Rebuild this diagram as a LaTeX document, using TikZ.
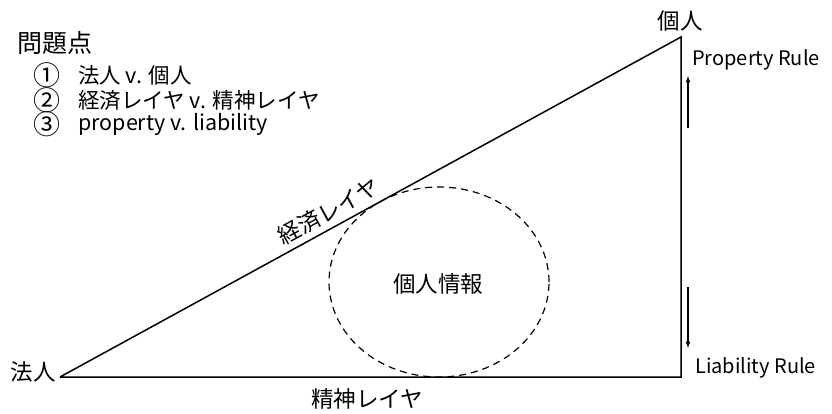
\documentclass[tikz,border=0pt]{standalone}
\usepackage{fontspec}
\setmainfont{Noto Sans CJK JP}
\usetikzlibrary{positioning, shapes.geometric}
\begin{document}
\begin{tikzpicture}[x=1pt, y=-1pt, font=\fontsize{22.5}{27}\selectfont, inner sep=0pt]
		\useasboundingbox (0,0) rectangle (832,413);

		% triangle corners
		\coordinate (left) at (60,377);
		\coordinate (top) at (681,37);
		\coordinate (corner) at (681,377);
		\draw [line width=1.5pt, line join=miter] (left) -- (top) node [pos=.445, sloped, above=5pt] {経済レイヤ} -- (corner) -- (left) node [pos=.505, below=11pt] {精神レイヤ};

		% corner labels
		\node [anchor = east] (hojin) at (56,372) {法人};
		\node [anchor = south] (kojin) at (680,32) {個人};

		% personal information
		\node [draw, line width=1.2pt, dash pattern=on 7pt off 5pt, ellipse, minimum width=220pt, minimum height=190pt] (info) at (439,282) {};
		\node (infotext) at (438,284) {個人情報};

		% rules on the right
		\node [anchor = west] (prop) at (692,60) {\fontsize{20}{24}\selectfont Property Rule};
		\node [anchor = west] (liab) at (695,368) {\fontsize{20}{24}\selectfont Liability Rule};
		\coordinate (propS) at (688,128);
		\coordinate (propE) at (688,76);
		\coordinate (liabS) at (688,287);
		\coordinate (liabE) at (688,348);
		\draw [line width=1.2pt, -latex] (propS) -- (propE);
		\draw [line width=1.2pt, -latex] (liabS) -- (liabE);

		% list of issues
		\node [anchor = west] (issues) at (17,43) {\fontsize{25}{29}\selectfont 問題点};
		\node [anchor = west] (num1) at (33,75) {\fontsize{27}{27}\selectfont ①};
		\node [anchor = west] (num2) at (33,100) {\fontsize{27}{27}\selectfont ②};
		\node [anchor = west] (num3) at (33,124) {\fontsize{27}{27}\selectfont ③};
		\node [right = 45pt of num1.west, anchor = west, font=\fontsize{21.5}{25}\selectfont] (item1) {法人 v. 個人};
		\node [right = 45pt of num2.west, anchor = west, font=\fontsize{21.5}{25}\selectfont] (item2) {経済レイヤ v. 精神レイヤ};
		\node [right = 45pt of num3.west, anchor = west, font=\fontsize{21.5}{25}\selectfont] (item3) {property v. liability};
	\end{tikzpicture}
\end{document}
